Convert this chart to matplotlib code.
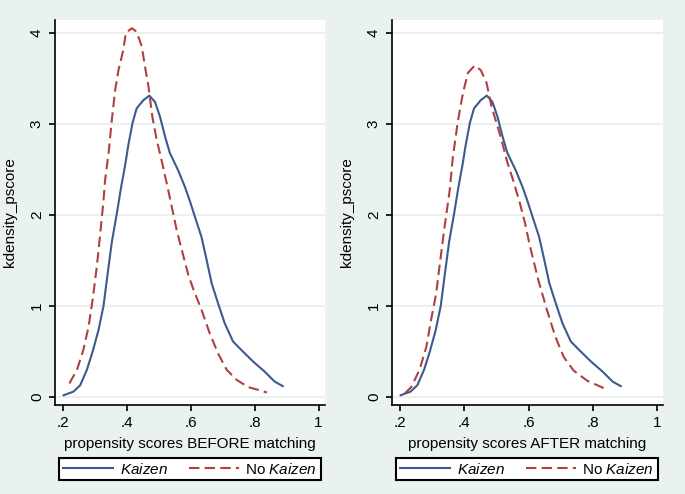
import numpy as np
import matplotlib
matplotlib.use("Agg")
import matplotlib.pyplot as plt

plt.rcParams['font.family'] = ['Liberation Sans', 'DejaVu Sans']
plt.rcParams['mathtext.fontset'] = 'custom'
plt.rcParams['mathtext.rm'] = 'Liberation Sans'
plt.rcParams['mathtext.it'] = 'Liberation Sans:italic'

# Kaizen density (same in both panels)
kaizen_x = [0.201, 0.232, 0.253, 0.274, 0.292, 0.310, 0.326, 0.337, 0.352, 0.368, 0.381,
            0.394, 0.404, 0.417, 0.430, 0.451, 0.470, 0.4875, 0.503, 0.519, 0.534, 0.560,
            0.581, 0.597, 0.6125, 0.633, 0.649, 0.665, 0.685, 0.706, 0.732, 0.763, 0.795,
            0.831, 0.8625, 0.888]
kaizen_y = [0.02, 0.06, 0.13, 0.30, 0.50, 0.73, 1.00, 1.30, 1.70, 2.02, 2.30,
            2.55, 2.77, 3.01, 3.17, 3.26, 3.31, 3.24, 3.08, 2.86, 2.68, 2.49,
            2.31, 2.15, 1.98, 1.76, 1.51, 1.25, 1.03, 0.81, 0.61, 0.50, 0.39,
            0.28, 0.17, 0.12]

# No Kaizen, before matching
before_x = [0.219, 0.243, 0.263, 0.279, 0.292, 0.305, 0.316, 0.326, 0.331, 0.342, 0.352,
            0.3625, 0.373, 0.388, 0.396, 0.415, 0.430, 0.446, 0.456, 0.467, 0.479, 0.493,
            0.510, 0.529, 0.540, 0.555, 0.571, 0.592, 0.607, 0.633, 0.659, 0.685, 0.712,
            0.743, 0.779, 0.810, 0.838]
before_y = [0.15, 0.30, 0.52, 0.77, 1.07, 1.43, 1.80, 2.16, 2.38, 2.68, 3.04,
            3.37, 3.59, 3.81, 4.00, 4.05, 4.01, 3.85, 3.63, 3.41, 3.08, 2.82,
            2.57, 2.27, 2.09, 1.84, 1.62, 1.34, 1.19, 0.96, 0.70, 0.48, 0.30,
            0.19, 0.11, 0.08, 0.05]

# No Kaizen, after matching
after_x = [0.214, 0.234, 0.260, 0.281, 0.296, 0.312, 0.322, 0.338, 0.354, 0.364, 0.380,
           0.3955, 0.411, 0.432, 0.451, 0.469, 0.4845, 0.500, 0.516, 0.532, 0.552, 0.573,
           0.589, 0.605, 0.631, 0.658, 0.684, 0.710, 0.741, 0.783, 0.840]
after_y = [0.04, 0.11, 0.30, 0.55, 0.85, 1.14, 1.43, 1.87, 2.27, 2.64, 3.04,
           3.34, 3.56, 3.64, 3.59, 3.45, 3.19, 3.01, 2.82, 2.60, 2.38, 2.13,
           1.91, 1.65, 1.28, 0.95, 0.66, 0.44, 0.29, 0.18, 0.09]

xticks = [0.2, 0.4, 0.6, 0.8, 1.0]
xticklabels = ['.2', '.4', '.6', '.8', '1']
yticks = [0, 1, 2, 3, 4]

bg = '#EAF1F1'
blue = '#3C5A8C'
red = '#B04040'

fig = plt.figure(figsize=(6.85, 4.94), dpi=100, facecolor=bg)

panels = [
    ([0.0803, 0.180, 0.394, 0.7795], before_x, before_y, 'propensity scores BEFORE matching', 0.2774),
    ([0.5723, 0.180, 0.3957, 0.7795], after_x, after_y, 'propensity scores AFTER matching', 0.7694),
]

for rect, rx, ry, xlabel, legx in panels:
    ax = fig.add_axes(rect)
    ax.set_facecolor('white')
    for y in yticks:
        ax.axhline(y, color=bg, lw=1.5, zorder=0)
    l1, = ax.plot(kaizen_x, kaizen_y, color=blue, lw=1.5, label='Kaizen')
    l2, = ax.plot(rx, ry, color=red, lw=1.5, dashes=(5, 2.5), label='No Kaizen')
    ax.set_xlim(0.174, 1.02)
    ax.set_ylim(-0.088, 4.14)
    ax.set_xticks(xticks)
    ax.set_xticklabels(xticklabels)
    ax.set_yticks(yticks)
    ax.set_yticklabels([str(v) for v in yticks], rotation=90, va='center')
    ax.tick_params(direction='out', length=4.5, width=1.2, labelsize=11, pad=3.5)
    for s in ['top', 'right']:
        ax.spines[s].set_visible(False)
    for s in ['left', 'bottom']:
        ax.spines[s].set_linewidth(1.2)
    ax.set_xlabel(xlabel, fontsize=11, labelpad=5)
    ax.set_ylabel('kdensity_pscore', fontsize=11, labelpad=9)
    leg = fig.legend([l1, l2], ['$\\it{Kaizen}$', 'No $\\it{Kaizen}$'],
                     loc='center', bbox_to_anchor=(legx, 0.0506),
                     ncol=2, fontsize=11, frameon=True, fancybox=False,
                     handlelength=3.3, handletextpad=0.4, columnspacing=1.4,
                     borderpad=0.25, borderaxespad=0)
    leg.get_frame().set_edgecolor('black')
    leg.get_frame().set_linewidth(1.5)
    leg.get_frame().set_alpha(1)

fig.savefig('out.png', dpi=100, facecolor=bg)
